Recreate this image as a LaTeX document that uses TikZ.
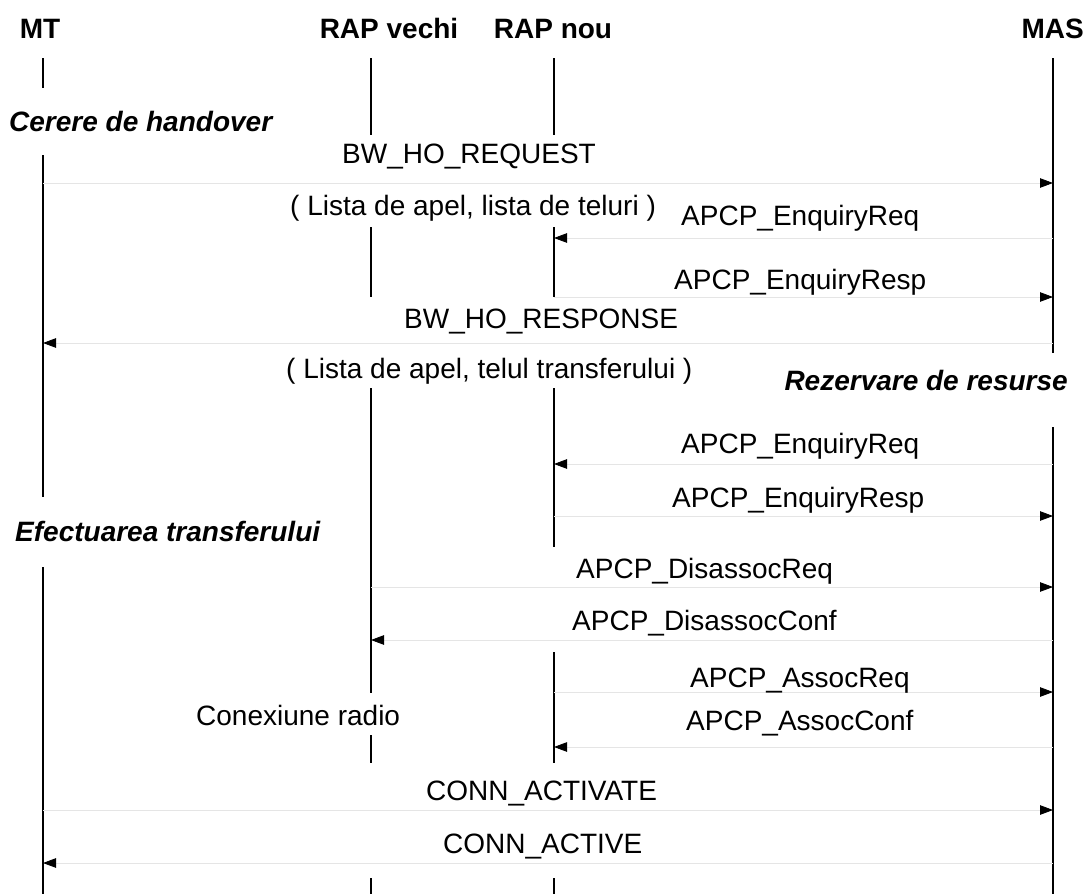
\documentclass[tikz,border=0pt]{standalone}
\usepackage{fontspec}
\setmainfont{Liberation Sans}
\usetikzlibrary{arrows.meta}

% one piece of a lifeline: \lifeseg{lifeline}{from y}{to y}
\newcommand{\lifeseg}[3]{%
  \coordinate (ls@a) at (0,#2);\coordinate (ls@b) at (0,#3);%
  \draw[life] (#1 |- ls@a) -- (#1 |- ls@b);}
% one message: \msgarrow{name}{sender}{receiver}{y}
\newcommand{\msgarrow}[4]{%
  \coordinate (#1) at (0,#4);%
  \draw[msg] (#2 |- #1) -- (#3 |- #1);}

\begin{document}
\begin{tikzpicture}[x=1pt,y=-1pt,
  life/.style={line width=1.7pt},
  msg/.style={draw=black!10, line width=0.8pt,
    -{Triangle[length=13pt,width=9.5pt,color=black]}},
  lbl/.style={inner sep=0pt, font=\fontsize{28}{30}\selectfont},
  hdr/.style={inner sep=0pt, font=\fontsize{28}{30}\selectfont\bfseries},
  phase/.style={inner sep=0pt, font=\fontsize{28}{30}\selectfont\bfseries\itshape}]
\useasboundingbox[fill=white] (0,0) rectangle (1086,894);

% lifeline positions
\coordinate (mt)  at (43,0);
\coordinate (rv)  at (371,0);
\coordinate (rn)  at (554,0);
\coordinate (mas) at (1053,0);

% headers
\node[hdr, anchor=base]      (hmt)  at (40,38)   {MT};
\node[hdr, anchor=base]      (hrv)  at (389,38)  {RAP vechi};
\node[hdr, anchor=base]      (hrn)  at (553,38)  {RAP nou};
\node[hdr, anchor=base east] (hmas) at (1084,38) {MAS};

% lifelines, broken where labels and messages pass
\lifeseg{mt}{58}{88}
\lifeseg{mt}{155}{497}
\lifeseg{mt}{567}{894}

\lifeseg{rv}{58}{135}
\lifeseg{rv}{227}{297}
\lifeseg{rv}{388}{693}
\lifeseg{rv}{735}{763}
\lifeseg{rv}{878}{894}

\lifeseg{rn}{58}{135}
\lifeseg{rn}{227}{297}
\lifeseg{rn}{388}{547}
\lifeseg{rn}{652}{763}
\lifeseg{rn}{878}{894}

\lifeseg{mas}{58}{353}
\lifeseg{mas}{427}{894}

% phases
\node[phase, anchor=base west] (p1) at (9,131)    {Cerere de handover};
\node[phase, anchor=base east] (p2) at (1068,390) {Rezervare de resurse};
\node[phase, anchor=base west] (p3) at (15,541)   {Efectuarea transferului};

% messages
\msgarrow{m1}{mt}{mas}{183}
\node[lbl, anchor=base west] at (342,163) {BW\_HO\_REQUEST};
\node[lbl, anchor=base west] at (290,215) {( Lista de apel, lista de teluri )};

\msgarrow{m2}{mas}{rn}{238}
\node[lbl, anchor=base west] at (681,225) {APCP\_EnquiryReq};

\msgarrow{m3}{rn}{mas}{297}
\node[lbl, anchor=base west] at (674,289) {APCP\_EnquiryResp};

\msgarrow{m4}{mas}{mt}{343}
\node[lbl, anchor=base west] at (404,328) {BW\_HO\_RESPONSE};
\node[lbl, anchor=base west] at (286,378) {( Lista de apel, telul transferului )};

\msgarrow{m5}{mas}{rn}{464}
\node[lbl, anchor=base west] at (681,453) {APCP\_EnquiryReq};

\msgarrow{m6}{rn}{mas}{516}
\node[lbl, anchor=base west] at (672,507) {APCP\_EnquiryResp};

\msgarrow{m7}{rv}{mas}{587}
\node[lbl, anchor=base west] at (576,578) {APCP\_DisassocReq};

\msgarrow{m8}{mas}{rv}{640}
\node[lbl, anchor=base west] at (572,630) {APCP\_DisassocConf};

\msgarrow{m9}{rn}{mas}{692}
\node[lbl, anchor=base west] at (690,687) {APCP\_AssocReq};

\node[lbl, anchor=base west] (radio) at (196,725) {Conexiune radio};

\msgarrow{m10}{mas}{rn}{747}
\node[lbl, anchor=base west] at (686,730) {APCP\_AssocConf};

\msgarrow{m11}{mt}{mas}{810}
\node[lbl, anchor=base west] at (426,800) {CONN\_ACTIVATE};

\msgarrow{m12}{mas}{mt}{863}
\node[lbl, anchor=base west] at (443,853) {CONN\_ACTIVE};
\end{tikzpicture}
\end{document}
